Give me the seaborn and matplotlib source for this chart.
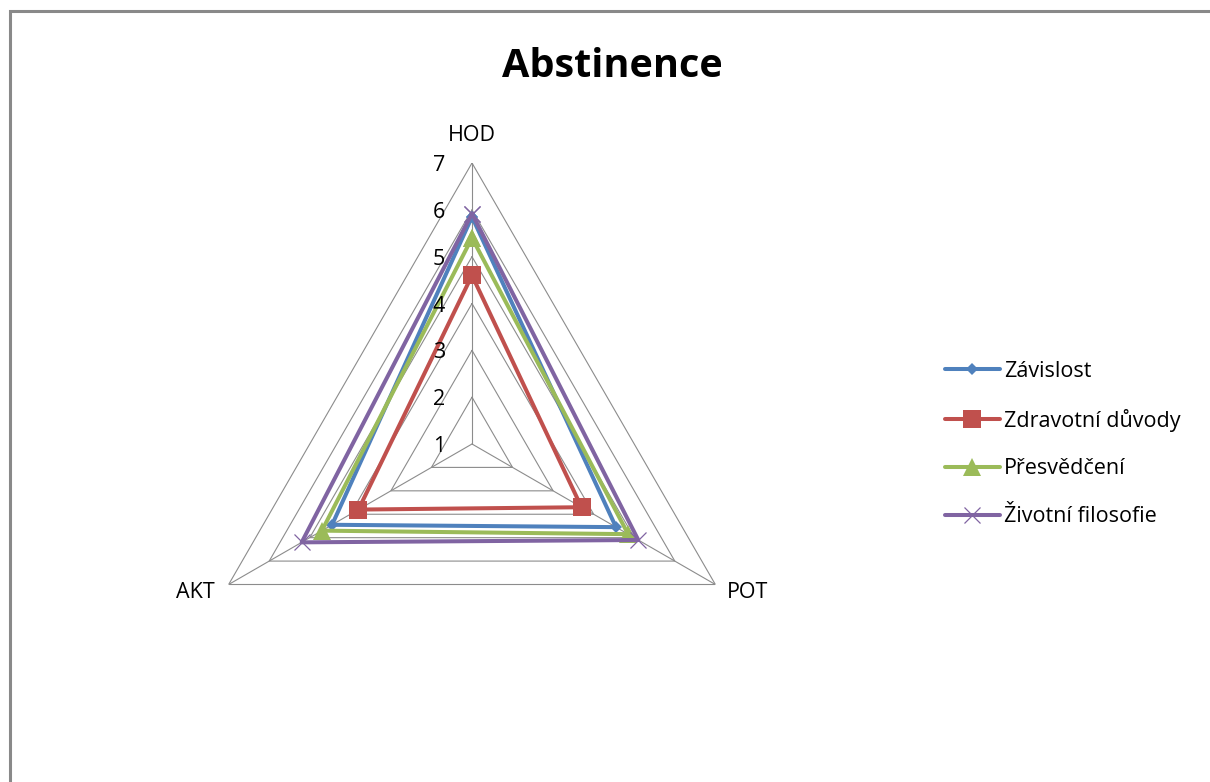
import numpy as np
import pandas as pd
import matplotlib
matplotlib.use("Agg")
import matplotlib.pyplot as plt
from matplotlib.patches import Rectangle
import seaborn as sns

# Radar data: three scales, four motive groups
categories = ["HOD", "POT", "AKT"]
zavislost = [5.85, 4.55, 4.45]
zdravotni_duvody = [4.6, 3.7, 3.8]
presvedceni = [5.4, 4.85, 4.7]
zivotni_filosofie = [5.92, 5.1, 5.2]
series_names = ["Závislost", "Zdravotní důvody", "Přesvědčení", "Životní filosofie"]
radial_ticks = [1, 2, 3, 4, 5, 6, 7]
title = "Abstinence"

sns.set_theme(style="white")
plt.rcParams["font.family"] = ["Open Sans", "DejaVu Sans"]
plt.rcParams["text.color"] = "black"

W, H = 1210, 782
fig = plt.figure(figsize=(W / 100, H / 100), dpi=100)
fig.patch.set_facecolor("white")

# polar axes centred on the triangle
cx, cy, R = 472, 444, 281
ax = fig.add_axes([(cx - R) / W, (H - cy - R) / H, 2 * R / W, 2 * R / H],
                  projection="polar")
ax.set_theta_offset(np.pi / 2)
ax.set_theta_direction(-1)
ax.spines["polar"].set_visible(False)
ax.grid(False)
ax.set_xticks([])
ax.set_yticks([])
ax.set_facecolor("none")

n = len(categories)
theta = np.linspace(0, 2 * np.pi, n, endpoint=False)
theta_closed = np.append(theta, 2 * np.pi)

grid_col = "#8c8c8c"
rmin, rmax = radial_ticks[0], radial_ticks[-1]

# triangular rings and spokes
for k in radial_ticks[1:]:
    ax.plot(theta_closed, [k] * (n + 1), color=grid_col, lw=0.8, zorder=1)
for t in theta:
    ax.plot([t, t], [rmin, rmax], color=grid_col, lw=0.8, zorder=1)

colors = ["#4F81BD", "#C0504D", "#9BBB59", "#8064A2"]
styles = [
    dict(marker="D", markersize=6.6, markeredgewidth=0),
    dict(marker="s", markersize=13.5, markeredgewidth=0),
    dict(marker="^", markersize=13, markeredgewidth=0),
    dict(marker="x", markersize=12, markeredgewidth=0.9),
]
values = [zavislost, zdravotni_duvody, presvedceni, zivotni_filosofie]

for name, vals, col, st in zip(series_names, values, colors, styles):
    df = pd.DataFrame({"theta": theta_closed, "value": list(vals) + [vals[0]]})
    sns.lineplot(data=df, x="theta", y="value", sort=False, ax=ax, lw=2.9,
                 color=col, markeredgecolor=col, markerfacecolor=col,
                 label=name, zorder=3, **st)

ax.set_ylim(rmin, rmax)
ax.set_xlabel("")
ax.set_ylabel("")
if ax.get_legend() is not None:
    ax.get_legend().remove()

fs = 15.5

# radial value labels along the top spoke
for k in radial_ticks:
    ax.annotate(str(k), xy=(0, k), xytext=(-27, -8), textcoords="offset pixels",
                ha="right", va="baseline", fontsize=fs, color="black")

# category labels at the outer vertices
ax.annotate(categories[0], xy=(theta[0], rmax), xytext=(0, 22),
            textcoords="offset pixels", ha="center", va="baseline", fontsize=fs)
ax.annotate(categories[1], xy=(theta[1], rmax), xytext=(12, -14),
            textcoords="offset pixels", ha="left", va="baseline", fontsize=fs)
ax.annotate(categories[2], xy=(theta[2], rmax), xytext=(-14, -14),
            textcoords="offset pixels", ha="right", va="baseline", fontsize=fs)

fig.text(612 / W, 1 - 77 / H, title, ha="center", va="baseline",
         fontsize=28.5, fontweight="bold", color="black")

handles, labels = ax.get_legend_handles_labels()
fig.legend(handles, labels, loc="center left",
           bbox_to_anchor=(945 / W, 1 - 444 / H), bbox_transform=fig.transFigure,
           frameon=False, fontsize=fs, handlelength=2.55, handletextpad=0.2,
           labelspacing=1.25, borderpad=0, borderaxespad=0)

# chart area frame (top and left edges visible)
fig.add_artist(Rectangle((10 / W, -0.1), 1.2, 1.1 - 11 / H,
                         transform=fig.transFigure, fill=False,
                         edgecolor="#898989", lw=2.2))

fig.savefig("out.png", dpi=100)
